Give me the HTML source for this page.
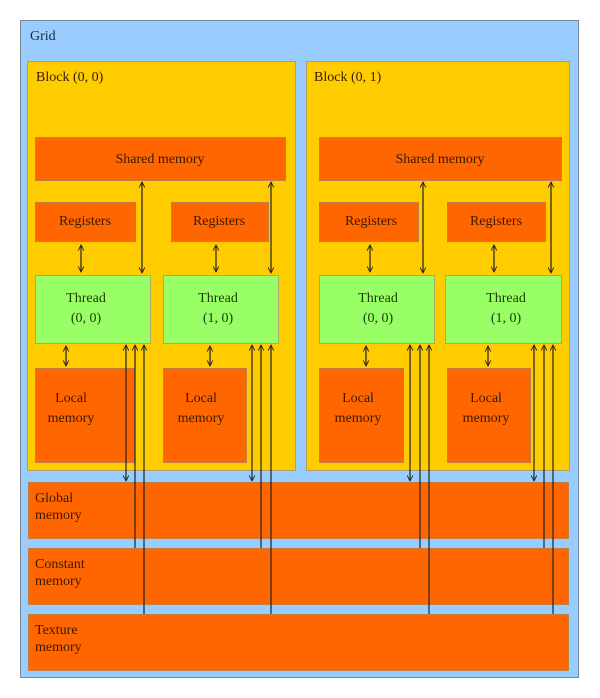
<!DOCTYPE html>
<html><head><meta charset="utf-8"><style>
html,body{margin:0;padding:0;background:#fff;width:600px;height:698px;overflow:hidden}
svg text{font-family:"Liberation Serif",serif;font-size:14px;fill:#3a1a00}
</style></head><body>
<svg width="600" height="698" viewBox="0 0 600 698" xmlns="http://www.w3.org/2000/svg">
<defs>
<marker id="a" viewBox="0 0 10 10" refX="9" refY="5" markerWidth="7" markerHeight="7" orient="auto-start-reverse" markerUnits="userSpaceOnUse"><path d="M1,1 L9,5 L1,9" fill="none" stroke="#222" stroke-width="1.3"/></marker>
</defs>
<rect x="20.5" y="20.5" width="558" height="657" fill="#99ccff" stroke="#7a8a99"/>
<text x="30" y="40" style="fill:#1a2a3a">Grid</text>
<g stroke="#b0a060" stroke-width="1">
<rect x="27.5" y="61.5" width="268" height="409" fill="#ffcc00"/>
<rect x="306.5" y="61.5" width="263" height="409" fill="#ffcc00"/>
</g>
<text x="36" y="81">Block (0, 0)</text>
<text x="314" y="81">Block (0, 1)</text>
<g fill="#ff6600" stroke="#c08040" stroke-width="1">
<rect x="35.5" y="137.5" width="250" height="43"/>
<rect x="319.5" y="137.5" width="242" height="43"/>
<rect x="35.5" y="202.5" width="100" height="39"/>
<rect x="171.5" y="202.5" width="97" height="39"/>
<rect x="319.5" y="202.5" width="99" height="39"/>
<rect x="447.5" y="202.5" width="98" height="39"/>
<rect x="35.5" y="368.5" width="99" height="94"/>
<rect x="163.5" y="368.5" width="83" height="94"/>
<rect x="319.5" y="368.5" width="84" height="94"/>
<rect x="447.5" y="368.5" width="83" height="94"/>
<rect x="28.5" y="482.5" width="540" height="56"/>
<rect x="28.5" y="548.5" width="540" height="56"/>
<rect x="28.5" y="614.5" width="540" height="56"/>
</g>
<g fill="#99ff66" stroke="#a0b060" stroke-width="1">
<rect x="35.5" y="275.5" width="115" height="68"/>
<rect x="163.5" y="275.5" width="115" height="68"/>
<rect x="319.5" y="275.5" width="115" height="68"/>
<rect x="445.5" y="275.5" width="116" height="68"/>
</g>
<g text-anchor="middle">
<text x="160" y="163">Shared memory</text>
<text x="440" y="163">Shared memory</text>
<text x="85" y="225">Registers</text>
<text x="219" y="225">Registers</text>
<text x="371" y="225">Registers</text>
<text x="496" y="225">Registers</text>
<text x="86" y="302" style="fill:#1a3a00">Thread</text><text x="86" y="322" style="fill:#1a3a00">(0, 0)</text>
<text x="218" y="302" style="fill:#1a3a00">Thread</text><text x="218" y="322" style="fill:#1a3a00">(1, 0)</text>
<text x="378" y="302" style="fill:#1a3a00">Thread</text><text x="378" y="322" style="fill:#1a3a00">(0, 0)</text>
<text x="506" y="302" style="fill:#1a3a00">Thread</text><text x="506" y="322" style="fill:#1a3a00">(1, 0)</text>
<text x="71" y="402">Local</text><text x="71" y="422">memory</text>
<text x="201" y="402">Local</text><text x="201" y="422">memory</text>
<text x="358" y="402">Local</text><text x="358" y="422">memory</text>
<text x="486" y="402">Local</text><text x="486" y="422">memory</text>
</g>
<text x="35" y="502">Global</text><text x="35" y="519">memory</text>
<text x="35" y="568">Constant</text><text x="35" y="585">memory</text>
<text x="35" y="634">Texture</text><text x="35" y="651">memory</text>
<g stroke="#222" stroke-width="1.2" fill="none">
<!-- registers-thread -->
<line x1="81" y1="245" x2="81" y2="272" marker-start="url(#a)" marker-end="url(#a)"/>
<line x1="216" y1="245" x2="216" y2="272" marker-start="url(#a)" marker-end="url(#a)"/>
<line x1="370" y1="245" x2="370" y2="272" marker-start="url(#a)" marker-end="url(#a)"/>
<line x1="494" y1="245" x2="494" y2="272" marker-start="url(#a)" marker-end="url(#a)"/>
<!-- shared-thread -->
<line x1="142" y1="182" x2="142" y2="273" marker-start="url(#a)" marker-end="url(#a)"/>
<line x1="271" y1="182" x2="271" y2="273" marker-start="url(#a)" marker-end="url(#a)"/>
<line x1="423" y1="182" x2="423" y2="273" marker-start="url(#a)" marker-end="url(#a)"/>
<line x1="551" y1="182" x2="551" y2="273" marker-start="url(#a)" marker-end="url(#a)"/>
<!-- thread-local -->
<line x1="66" y1="346" x2="66" y2="366" marker-start="url(#a)" marker-end="url(#a)"/>
<line x1="210" y1="346" x2="210" y2="366" marker-start="url(#a)" marker-end="url(#a)"/>
<line x1="366" y1="346" x2="366" y2="366" marker-start="url(#a)" marker-end="url(#a)"/>
<line x1="488" y1="346" x2="488" y2="366" marker-start="url(#a)" marker-end="url(#a)"/>
<!-- global -->
<line x1="126" y1="345" x2="126" y2="481" marker-start="url(#a)" marker-end="url(#a)"/>
<line x1="252" y1="345" x2="252" y2="481" marker-start="url(#a)" marker-end="url(#a)"/>
<line x1="410" y1="345" x2="410" y2="481" marker-start="url(#a)" marker-end="url(#a)"/>
<line x1="534" y1="345" x2="534" y2="481" marker-start="url(#a)" marker-end="url(#a)"/>
<!-- constant -->
<line x1="135" y1="345" x2="135" y2="548" marker-start="url(#a)"/>
<line x1="261" y1="345" x2="261" y2="548" marker-start="url(#a)"/>
<line x1="420" y1="345" x2="420" y2="548" marker-start="url(#a)"/>
<line x1="544" y1="345" x2="544" y2="548" marker-start="url(#a)"/>
<!-- texture -->
<line x1="144" y1="345" x2="144" y2="614" marker-start="url(#a)"/>
<line x1="271" y1="345" x2="271" y2="614" marker-start="url(#a)"/>
<line x1="429" y1="345" x2="429" y2="614" marker-start="url(#a)"/>
<line x1="553" y1="345" x2="553" y2="614" marker-start="url(#a)"/>
</g>
</svg>
</body></html>
